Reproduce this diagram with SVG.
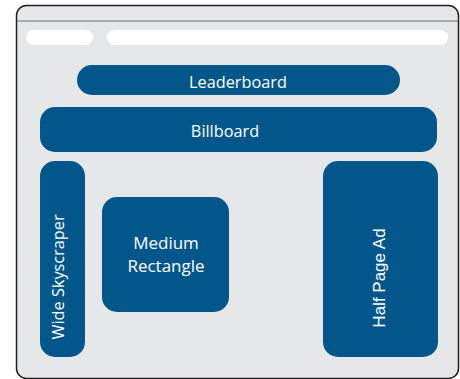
<svg xmlns="http://www.w3.org/2000/svg" width="460" height="379" viewBox="0 0 460 379">
<style>
.ad{fill:#02568a}
.t{fill:#ffffff;font-family:"Open Sans","Liberation Sans",sans-serif;font-size:16.3px;text-anchor:middle}
.bar{fill:#ffffff}
</style>
<rect width="460" height="379" fill="#ffffff"/>
<g id="browser">
<rect x="16.5" y="5.5" width="442" height="373" rx="10" ry="10" fill="#e6e7e8" stroke="#231f20" stroke-width="1.5"/>
<line x1="17" y1="21" x2="458" y2="21" stroke="#6d6e71" stroke-width="1.2"/>
<rect class="bar" x="26" y="30" width="67" height="15" rx="7.5"/>
<rect class="bar" x="107" y="30" width="341" height="15" rx="7.5"/>
</g>
<g id="leaderboard">
<rect class="ad" x="77" y="65" width="323" height="30" rx="15"/>
<text class="t" x="238" y="87.5">Leaderboard</text>
</g>
<g id="billboard">
<rect class="ad" x="40" y="107" width="397" height="45" rx="15"/>
<text class="t" x="225" y="136.5">Billboard</text>
</g>
<g id="wide-skyscraper">
<rect class="ad" x="40" y="161" width="45" height="196" rx="15"/>
<text class="t" transform="translate(64,277) rotate(-90)">Wide Skyscraper</text>
</g>
<g id="medium-rectangle">
<rect class="ad" x="102" y="197" width="127" height="115" rx="15"/>
<text class="t" style="font-size:17px" x="166" y="249">Medium</text>
<text class="t" style="font-size:17px" x="166" y="271.5">Rectangle</text>
</g>
<g id="half-page">
<rect class="ad" x="323" y="161" width="115" height="196" rx="15"/>
<text class="t" style="font-family:'Liberation Sans',Arial,sans-serif;font-size:17px" transform="translate(385,278) rotate(-90)">Half Page Ad</text>
</g>
<g id="connectors"></g>
</svg>
